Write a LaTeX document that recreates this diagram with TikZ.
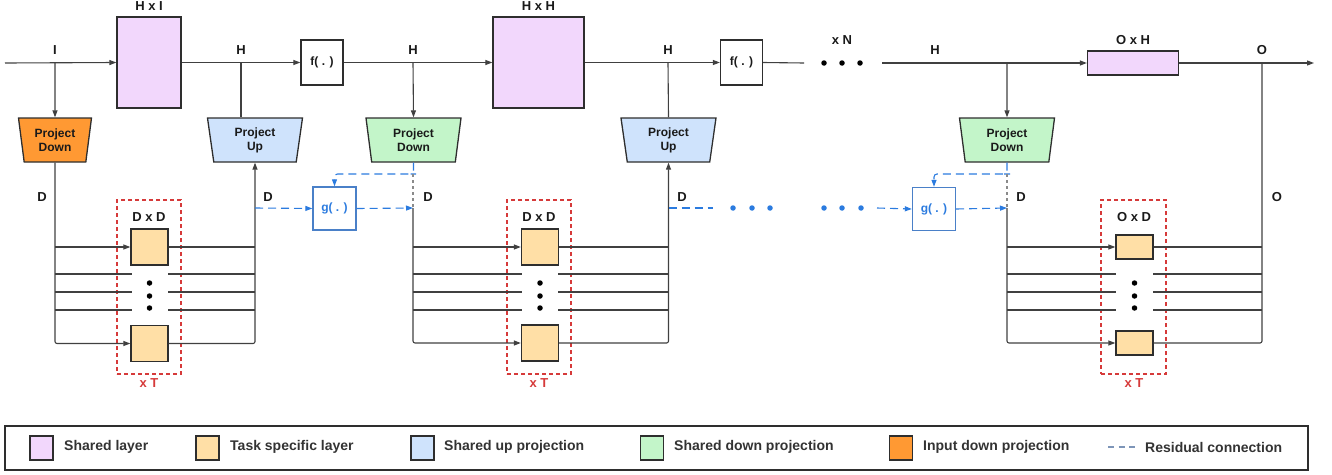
\documentclass[tikz,border=0pt]{standalone}
\usepackage{fontspec}
\setmainfont{Liberation Sans}
\usetikzlibrary{arrows.meta,shapes.geometric,calc}
\definecolor{lnc}{HTML}{404040}
\definecolor{bdc}{HTML}{2E2E2E}
\definecolor{sharedc}{HTML}{F2D7FC}
\definecolor{taskc}{HTML}{FFDFA6}
\definecolor{upc}{HTML}{CFE3FC}
\definecolor{downc}{HTML}{C3F5C9}
\definecolor{inpc}{HTML}{FF9933}
\definecolor{resblue}{HTML}{2B7BDF}
\definecolor{gboxc}{HTML}{4A80C8}
\definecolor{reddc}{HTML}{D63A3A}
\definecolor{legdash}{HTML}{7D95B8}
\definecolor{txtc}{HTML}{1A1A1A}
\definecolor{legtxt}{HTML}{333333}
\definecolor{greyd}{HTML}{8A8A8A}
\begin{document}
\begin{tikzpicture}[x=1pt,y=-1pt,
  font=\bfseries\fontsize{13}{15}\selectfont, text=txtc,
  tip/.tip={Triangle[length=7pt,width=5pt]},
  conn/.style={draw=lnc, line width=1.1pt},
  box/.style={draw=bdc, line width=1.3pt, inner sep=0pt},
  trapbox/.style={box, trapezium, shape border rotate=180, trapezium angle=76,
    trapezium stretches body, minimum height=44, align=center,
    font=\bfseries\fontsize{12}{14}\selectfont},
  lbl/.style={inner sep=0pt},
  res/.style={draw=resblue, line width=1.1pt, dash pattern=on 8pt off 5pt},
  gbox/.style={draw=gboxc, line width=1.4pt, fill=white, minimum width=43, minimum height=43,
    inner sep=0pt, text=resblue, font=\bfseries\fontsize{12}{14}\selectfont},
  fbox/.style={box, fill=white, minimum width=42, minimum height=45,
    font=\bfseries\fontsize{12}{14}\selectfont},
  redbox/.style={draw=reddc, line width=1.2pt, dash pattern=on 4pt off 3pt, inner sep=0pt},
  greydash/.style={draw=greyd, line width=1.1pt, dash pattern=on 3pt off 3pt},
  dotn/.style={circle, fill=black, inner sep=0pt, minimum size=5.5pt},
  bdot/.style={circle, fill=resblue, inner sep=0pt, minimum size=5.5pt},
  lsq/.style={box, minimum width=23, minimum height=24},
  ltxt/.style={anchor=west, inner sep=0pt, text=legtxt, font=\bfseries\fontsize{14}{16}\selectfont},
]
\useasboundingbox (0,0) rectangle (1332,474);

% ---------- top row nodes ----------
\coordinate (in) at (5,63);
\node[box, fill=sharedc, minimum width=64, minimum height=91] (HxI) at (149,62.5) {};
\node[lbl] (lHxI) at (149,6) {H x I};
\node[fbox] (f1) at (322,62.5) {f( . )};
\node[box, fill=sharedc, minimum width=91, minimum height=91] (HxH) at (538.5,62.5) {};
\node[lbl] (lHxH) at (538.5,6) {H x H};
\node[fbox] (f2) at (741.5,62.5) {f( . )};
\coordinate (e1) at (804,63);
\node[dotn] (n1) at (824,63) {};
\node[dotn] (n2) at (842,63) {};
\node[dotn] (n3) at (860,63) {};
\node[lbl] (lxN) at (842,40) {x N};
\coordinate (s3) at (882,63);
\node[box, fill=sharedc, minimum width=91, minimum height=24] (OxH) at (1133,63) {};
\node[lbl] (lOxH) at (1133,40) {O x H};
\coordinate (out) at (1314,63);

\node[lbl] (lI) at (55,50) {I};
\node[lbl] (lH1) at (241,50) {H};
\node[lbl] (lH2) at (413,50) {H};
\node[lbl] (lH3) at (668,50) {H};
\node[lbl] (lH4) at (935,50) {H};
\node[lbl] (lO1) at (1262,50) {O};

\coordinate (j1) at (55,63);
\coordinate (j2) at (241,63);
\coordinate (j3) at (413,63);
\coordinate (j4) at (668,63);
\coordinate (j5) at (1007,63);
\coordinate (j6) at (1262,63);

% trapezia
\node[trapbox, fill=inpc, minimum width=73] (PD1) at (55,140) {Project\\Down};
\node[trapbox, fill=upc, minimum width=95] (PU1) at (255,140) {Project\\Up};
\node[trapbox, fill=downc, minimum width=95] (PD2) at (413.5,140) {Project\\Down};
\node[trapbox, fill=upc, minimum width=95] (PU2) at (668.5,140) {Project\\Up};
\node[trapbox, fill=downc, minimum width=95] (PD3) at (1007,140) {Project\\Down};

% main line
\draw[conn, -tip] (in) -- (HxI.west);
\draw[conn, -tip] (HxI.east) -- (f1.west);
\draw[conn, -tip] (f1.east) -- (HxH.west);
\draw[conn, -tip] (HxH.east) -- (f2.west);
\draw[conn] (f2.east) -- (e1);
\draw[conn, -tip] (s3) -- (OxH.west);
\draw[conn, -tip] (OxH.east) -- (out);

% branches
\draw[conn, -tip] (j1) -- (PD1.north);
\draw[conn] (j2) -- (j2 |- PU1.north);
\draw[conn, -tip] (j3) -- (PD2.north);
\draw[conn] (j4) -- (PU2.north);
\draw[conn, -tip] (j5) -- (PD3.north);

% ---------- block 1 ----------
\node[redbox, minimum width=64, minimum height=174] (R1) at (149,287) {};
\node[lbl, text=reddc] (xT1) at (149,383) {x T};
\node[lbl] (DD1) at (149,217) {D x D};
\node[box, fill=taskc, minimum width=37, minimum height=36] (T1a) at (149.5,247) {};
\node[box, fill=taskc, minimum width=37, minimum height=36] (T1b) at (149.5,343.5) {};
\node[dotn] at (149.5,283) {};
\node[dotn] at (149.5,296) {};
\node[dotn] at (149.5,308) {};
\node[lbl] (lD1) at (42,197) {D};
\node[lbl] (lD2) at (268,197) {D};
\draw[conn, rounded corners=2, -tip] (PD1.south) |- (T1b.west);
\draw[conn, -tip] (55,247) -- (T1a.west);
\draw[conn] (T1a.east) -- (255,247);
\draw[conn, rounded corners=2, -tip] (T1b.east) -| (PU1.south);
\foreach \yy in {274,292,310}{
  \draw[conn] (55,\yy) -- (132,\yy);
  \draw[conn] (168,\yy) -- (255,\yy);
}

% residual 1
\node[gbox] (g1) at (334.5,208.5) {g( . )};
\coordinate (r1) at (255,208);
\coordinate (k1) at (413,174);
\coordinate (m1) at (413,208);
\draw[res, -{Triangle[length=7pt,width=5pt]}] (r1) -- (g1.west);
\draw[res, -{Triangle[length=7pt,width=5pt]}] (g1.east) -- (m1);
\draw[res, rounded corners=3, -{Triangle[length=7pt,width=5pt]}] (PD2.south) |- ($(k1)!0!(k1)$) -| (g1.north);
\draw[greydash] (k1) -- (m1);

% ---------- block 2 ----------
\node[redbox, minimum width=64, minimum height=174] (R2) at (539,287) {};
\node[lbl, text=reddc] (xT2) at (539,383) {x T};
\node[lbl] (DD2) at (539,217) {D x D};
\node[box, fill=taskc, minimum width=37, minimum height=36] (T2a) at (540,247) {};
\node[box, fill=taskc, minimum width=37, minimum height=36] (T2b) at (540,343) {};
\node[dotn] at (540,283) {};
\node[dotn] at (540,296) {};
\node[dotn] at (540,308) {};
\node[lbl] (lD3) at (428,197) {D};
\node[lbl] (lD4) at (682,197) {D};
\draw[conn, rounded corners=2, -tip] (m1) |- (T2b.west);
\draw[conn, -tip] (413,247) -- (T2a.west);
\draw[conn] (T2a.east) -- (668,247);
\draw[conn, rounded corners=2, -tip] (T2b.east) -| (PU2.south);
\foreach \yy in {274,292,310}{
  \draw[conn] (413,\yy) -- (522,\yy);
  \draw[conn] (558,\yy) -- (668,\yy);
}

% residual 2
\coordinate (r2) at (668.5,208);
\coordinate (r2e) at (713,208);
\draw[res] (r2) -- (r2e);
\node[bdot] at (733,208) {};
\node[bdot] at (752,208) {};
\node[bdot] at (770,208) {};
\node[bdot] at (824,208) {};
\node[bdot] at (842,208) {};
\node[bdot] at (861,208) {};
\coordinate (r3) at (877,208);
\node[gbox] (g2) at (934,209) {g( . )};
\coordinate (k2) at (1007,174);
\coordinate (m2) at (1007,208);
\draw[res, -{Triangle[length=7pt,width=5pt]}] (r3) -- (g2.west);
\draw[res, -{Triangle[length=7pt,width=5pt]}] (g2.east) -- (m2);
\draw[res, rounded corners=3, -{Triangle[length=7pt,width=5pt]}] (PD3.south) |- (k2) -| (g2.north);
\draw[greydash] (k2) -- (m2);

% ---------- block 3 ----------
\node[redbox, minimum width=65, minimum height=174] (R3) at (1133.5,287) {};
\node[lbl, text=reddc] (xT3) at (1134,383) {x T};
\node[lbl] (OD) at (1134,217) {O x D};
\node[box, fill=taskc, minimum width=37, minimum height=24] (T3a) at (1134.5,247) {};
\node[box, fill=taskc, minimum width=37, minimum height=24] (T3b) at (1134.5,343) {};
\node[dotn] at (1134.5,283) {};
\node[dotn] at (1134.5,296) {};
\node[dotn] at (1134.5,308) {};
\node[lbl] (lD5) at (1021,197) {D};
\node[lbl] (lO2) at (1277,197) {O};
\draw[conn, rounded corners=2, -tip] (m2) |- (T3b.west);
\draw[conn, -tip] (1007,247) -- (T3a.west);
\draw[conn] (T3a.east) -- (1262,247);
\draw[conn, rounded corners=2] (T3b.east) -| (j6);
\foreach \yy in {274,292,310}{
  \draw[conn] (1007,\yy) -- (1116,\yy);
  \draw[conn] (1153,\yy) -- (1262,\yy);
}

% ---------- legend ----------
\node[draw=bdc, line width=1.3pt, minimum width=1303, minimum height=44, inner sep=0pt] (legend) at (656.5,448) {};
\node[lsq, fill=sharedc] (q1) at (41.5,448) {};
\node[ltxt] (t1) at (64,447) {Shared layer};
\node[lsq, fill=taskc] (q2) at (207.5,448) {};
\node[ltxt] (t2) at (230,447) {Task specific layer};
\node[lsq, fill=upc] (q3) at (422.5,448) {};
\node[ltxt] (t3) at (444,447) {Shared up projection};
\node[lsq, fill=downc] (q4) at (652,448) {};
\node[ltxt] (t4) at (674,447) {Shared down projection};
\node[lsq, fill=inpc] (q5) at (901,448) {};
\node[ltxt] (t5) at (923,447) {Input down projection};
\coordinate (dl1) at (1108,447);
\coordinate (dl2) at (1139,447);
\draw[draw=legdash, line width=1.3pt, dash pattern=on 6pt off 4.5pt] (dl1) -- (dl2);
\node[ltxt] (t6) at (1145,447) {Residual connection};
\end{tikzpicture}
\end{document}
